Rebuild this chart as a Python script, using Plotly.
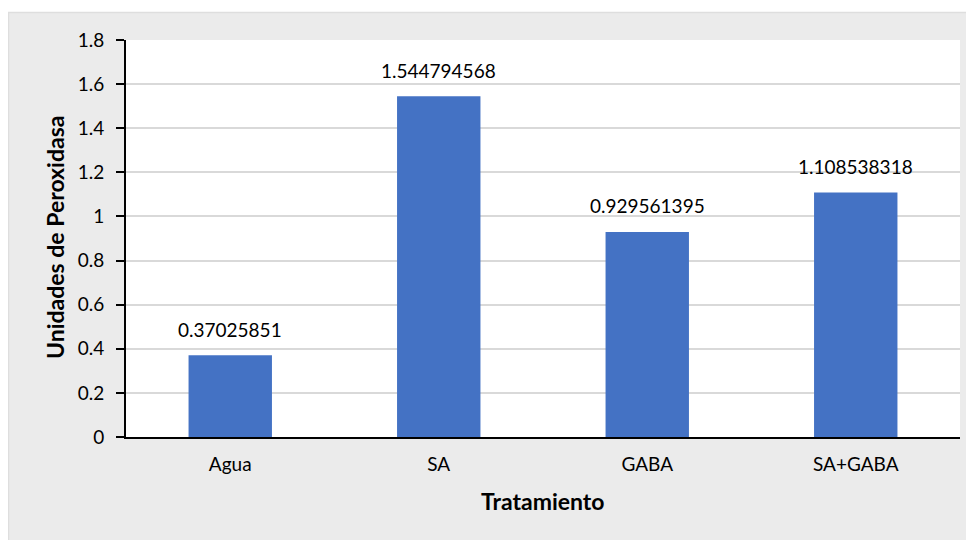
import plotly.graph_objects as go

categories = ["Agua", "SA", "GABA", "SA+GABA"]
values = [0.37025851, 1.544794568, 0.929561395, 1.108538318]
labels = ["0.37025851", "1.544794568", "0.929561395", "1.108538318"]
y_ticks = [0, 0.2, 0.4, 0.6, 0.8, 1, 1.2, 1.4, 1.6, 1.8]
y_tick_text = ["0", "0.2", "0.4", "0.6", "0.8", "1", "1.2", "1.4", "1.6", "1.8"]
x_title = "Tratamiento"
y_title = "Unidades de Peroxidasa"

FONT = "Lato, 'Open Sans', sans-serif"
# the page body adds an 8px offset; figure coordinates = page coordinates - 8
OFF = 8
W, H = 974 - OFF, 540 - OFF
ML, MR, MT, MB = 126 - OFF, 14, 40 - OFF, 540 - 437
PW = W - ML - MR
PH = H - MT - MB

def px_x(p):  # page pixel -> paper x
    return (p - OFF - ML) / PW

def px_y(p):  # page pixel -> paper y
    return (H - MB - (p - OFF)) / PH

fig = go.Figure()
fig.add_trace(go.Bar(
    x=categories, y=values,
    marker=dict(color="#4472C4", line=dict(width=0)),
    hoverinfo="x+y",
))

for c, v, t in zip(categories, values, labels):
    fig.add_annotation(x=c, y=v, text=t, showarrow=False, yshift=26,
                       font=dict(family=FONT, size=19, color="#000000"))

fig.add_annotation(xref="paper", yref="paper", x=0.5, y=px_y(501),
                   text="<b>" + x_title + "</b>", showarrow=False,
                   xanchor="center", yanchor="middle",
                   font=dict(family=FONT, size=23, color="#000000"))
fig.add_annotation(xref="paper", yref="paper", x=px_x(55), y=px_y(238),
                   text="<b>" + y_title + "</b>", showarrow=False, textangle=-90,
                   xanchor="center", yanchor="middle",
                   font=dict(family=FONT, size=23, color="#000000"))

fig.update_layout(
    width=W, height=H,
    margin=dict(l=ML, r=MR, t=MT, b=MB, pad=0),
    paper_bgcolor="#EBEBEB",
    plot_bgcolor="#FFFFFF",
    bargap=0.6,
    showlegend=False,
    font=dict(family=FONT, size=19, color="#000000"),
    xaxis=dict(
        showline=True, linecolor="#000000", linewidth=2,
        ticks="", showgrid=False,
        tickfont=dict(size=19),
        ticklabelstandoff=9,
    ),
    yaxis=dict(
        range=[0, 1.8],
        tickvals=y_ticks, ticktext=y_tick_text,
        showline=True, linecolor="#000000", linewidth=2,
        ticks="outside", ticklen=8, tickcolor="#000000", tickwidth=2,
        showgrid=True, gridcolor="#D9D9D9", gridwidth=2,
        zeroline=False,
        tickfont=dict(size=19),
        ticklabelstandoff=8,
    ),
    shapes=[
        dict(type="rect", xref="paper", yref="paper", layer="below",
             x0=px_x(0), x1=px_x(980), y0=px_y(0), y1=px_y(12),
             fillcolor="#FFFFFF", line=dict(width=0)),
        dict(type="rect", xref="paper", yref="paper", layer="below",
             x0=px_x(8.5), x1=px_x(990), y0=px_y(12.5), y1=px_y(560),
             fillcolor="rgba(0,0,0,0)", line=dict(width=1.5, color="#DEDEDE")),
    ],
)

fig.write_html("out.html")
